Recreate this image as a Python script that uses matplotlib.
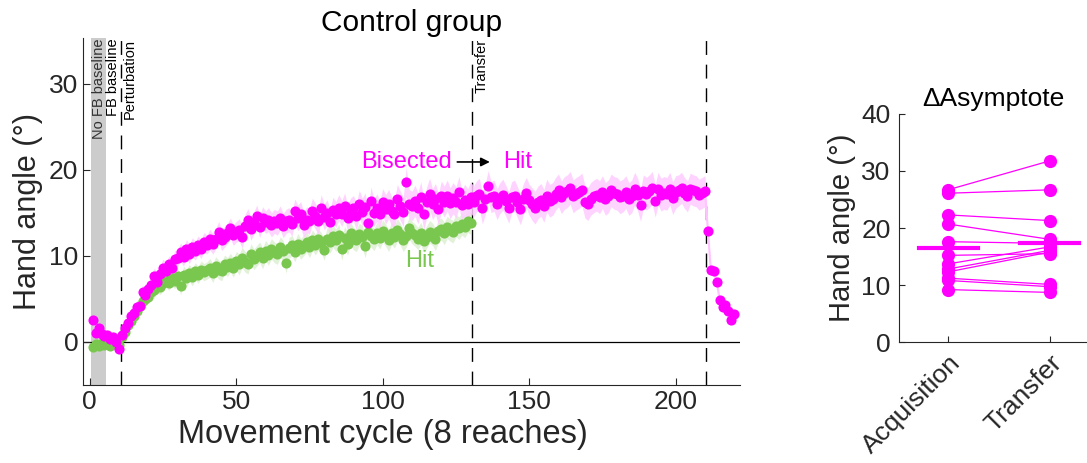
import numpy as np
import matplotlib.pyplot as plt

plt.rcParams['font.family'] = ['Liberation Sans', 'DejaVu Sans']

# Bisected group (magenta), mean hand angle per movement cycle 1..220
bisected = [
    2.6, 1.0, 1.6, 0.9, 0.7, 0.8, 0.3, 0.6, 0.0, -0.8,
    0.8, 1.6, 2.2, 3.0, 3.4, 4.0, 4.2, 5.8, 5.4, 6.2,
    6.6, 7.6, 7.0, 7.9, 8.6, 8.2, 9.0, 8.6, 9.6, 9.8,
    10.4, 9.9, 10.8, 10.2, 11.0, 10.6, 11.2, 10.8, 11.6, 11.3,
    11.9, 11.4, 12.0, 12.8, 11.8, 12.2, 12.6, 13.2, 12.4, 12.8,
    13.0, 12.2, 13.5, 14.2, 13.1, 13.8, 14.6, 13.4, 14.4, 13.9,
    14.2, 13.6, 14.0, 13.8, 14.4, 13.5, 14.0, 14.2, 13.7, 15.2,
    14.4, 14.8, 13.6, 14.2, 14.0, 15.2, 14.6, 14.0, 15.6, 14.5,
    15.0, 13.9, 15.3, 14.8, 15.6, 14.9, 15.8, 14.4, 15.2, 15.5,
    14.6, 16.0, 15.1, 15.7, 13.8, 16.4, 15.0, 15.6, 14.8, 16.2,
    15.4, 16.0, 15.2, 14.9, 16.6, 15.8, 15.1, 18.6, 16.0, 15.8,
    16.4, 15.5, 16.8, 14.8, 16.2, 17.2, 16.0, 16.6, 15.4, 16.9,
    16.3, 17.0, 16.1, 16.7, 16.2, 17.4, 15.9, 16.5, 16.0, 16.8,
    16.3, 16.9, 17.2, 15.5, 16.6, 18.1, 16.8, 17.0, 16.0, 16.7,
    17.1, 16.4, 15.6, 16.8, 17.0, 16.2, 15.4, 16.6, 17.3, 16.5,
    16.0, 15.6, 16.2, 16.5, 15.8, 17.0, 16.4, 16.6, 17.2, 17.6,
    16.8, 17.3, 17.5, 17.9, 16.9, 17.2, 17.4, 17.7, 16.3, 16.0,
    16.6, 16.9, 17.1, 16.8, 17.4, 16.6, 16.9, 17.6, 17.3, 17.2,
    16.8, 17.0, 17.4, 16.6, 16.9, 17.8, 17.1, 15.9, 17.5, 17.2,
    17.5, 17.9, 16.4, 17.8, 17.1, 17.3, 17.2, 17.8, 16.7, 17.4,
    17.6, 17.9, 17.3, 16.9, 17.8, 17.6, 17.5, 17.1, 17.3, 17.5,
    12.9, 8.3, 8.2, 7.0, 4.9, 4.1, 4.3, 3.6, 2.5, 3.2,
]
# SEM per block of 10 cycles
bisected_sem_blocks = [0.6, 0.8, 1.0, 1.1, 1.2, 1.3, 1.4, 1.5, 1.5, 1.6, 1.7,
                       1.8, 1.8, 1.8, 1.8, 1.9, 1.9, 1.9, 1.9, 1.9, 1.8, 0.5]

# Hit group (green), cycles 1..130
hit = [
    -0.6, -0.2, -0.5, -0.1, -0.4, 0.0, -0.5, -0.2, 0.2, -0.3,
    0.6, 1.2, 2.0, 2.4, 3.0, 3.6, 4.2, 4.8, 5.0, 5.2,
    5.8, 6.0, 6.6, 6.4, 6.8, 7.2, 6.9, 7.4, 7.1, 7.6,
    6.5, 7.8, 7.4, 8.0, 7.5, 8.2, 7.8, 8.4, 8.1, 8.3,
    8.6, 8.0, 8.8, 8.4, 8.2, 9.0, 8.7, 9.2, 8.6, 9.4,
    9.0, 9.8, 9.3, 9.1, 10.2, 9.6, 10.0, 10.4, 9.7, 10.6,
    10.1, 10.8, 10.4, 10.2, 11.0, 10.6, 9.2, 10.9, 11.2, 10.5,
    11.4, 10.8, 11.2, 11.6, 11.0, 11.8, 11.3, 11.9, 11.5, 10.7,
    12.0, 11.6, 12.3, 11.8, 12.4, 10.8, 12.1, 11.4, 12.6, 12.0,
    11.8, 12.5, 12.2, 11.1, 12.8, 12.3, 11.9, 12.6, 12.1, 12.9,
    12.4, 11.8, 12.6, 12.2, 13.0, 12.5, 11.8, 12.3, 13.2, 12.7,
    12.4, 12.0, 12.6, 11.7, 12.2, 12.8, 12.5, 11.9, 12.9, 13.1,
    12.6, 13.3, 13.0, 12.8, 13.5, 13.2, 13.7, 13.4, 14.0, 13.8,
]
hit_sem_blocks = [0.5, 0.7, 0.9, 1.0, 1.1, 1.2, 1.2, 1.2, 1.3, 1.3, 1.3, 1.3, 1.3]

# Asymptote per participant
acquisition = [26.7, 26.1, 22.3, 20.7, 17.6, 15.2, 13.7, 12.8, 12.3, 11.2, 10.8, 9.2]
transfer = [31.8, 26.7, 21.3, 18.0, 17.3, 15.5, 16.7, 16.1, 15.8, 10.1, 9.7, 8.7]
phase_labels = ['Acquisition', 'Transfer']

magenta = '#ff00ff'
green = '#7ac74f'
ink = '#262626'

bisected = np.array(bisected)
hit = np.array(hit)
cyc_b = np.arange(1, len(bisected) + 1)
cyc_h = np.arange(1, len(hit) + 1)
sem_b = np.repeat(bisected_sem_blocks, 10)[:len(bisected)]
sem_h = np.repeat(hit_sem_blocks, 10)[:len(hit)]

fig = plt.figure(figsize=(10.87, 4.63), dpi=100)
ax = fig.add_axes([0.0764, 0.1685, 0.6045, 0.7495])

ax.axvspan(0.5, 5.5, color='#cccccc', lw=0, zorder=0)
ax.axhline(0, color='black', lw=0.9, zorder=1)
for xv in [10.5, 130.5, 210.5]:
    ax.axvline(xv, color='black', lw=1, ls=(0, (10, 7)), zorder=1)

ax.fill_between(cyc_h, hit - sem_h, hit + sem_h, color='#e2f2d8', lw=0, zorder=2)
ax.fill_between(cyc_b, bisected - sem_b, bisected + sem_b, color='#ffccff', lw=0,
                alpha=0.85, zorder=2)
ax.plot(cyc_b[209:], bisected[209:], color='#ffc4ff', lw=1.5, zorder=2)
ax.plot(cyc_h, hit, 'o', color=green, ms=7.3, mec='none', zorder=3)
ax.plot(cyc_b, bisected, 'o', color=magenta, ms=7.3, mec='none', zorder=4)

ax.set_xlim(-2.3, 222)
ax.set_ylim(-5, 35.3)
ax.set_xticks([0, 50, 100, 150, 200])
ax.set_yticks([0, 10, 20, 30])
ax.tick_params(direction='in', length=5, labelsize=19, colors=ink)
for s in ['top', 'right']:
    ax.spines[s].set_visible(False)
for s in ['left', 'bottom']:
    ax.spines[s].set_color(ink)
ax.set_xlabel('Movement cycle (8 reaches)', fontsize=23.5, color=ink, labelpad=4, x=0.456)
ax.set_ylabel('Hand angle (°)', fontsize=22, color=ink)
ax.set_title('Control group', fontsize=21.5, color='black', pad=5)

vt = dict(rotation=90, va='top', ha='center', fontsize=10.5)
ax.text(3.0, 35.2, 'No FB baseline', color='#333333', **vt)
ax.text(8.0, 35.2, 'FB baseline', color='black', **vt)
ax.text(13.8, 35.2, 'Perturbation', color='black', **vt)
ax.text(133.8, 35.2, 'Transfer', color='black', **vt)

ax.text(123.5, 20.9, 'Bisected', color=magenta, fontsize=17, ha='right', va='center')
ax.annotate('', xy=(137.5, 20.9), xytext=(124.5, 20.9),
            arrowprops=dict(arrowstyle='-|>', color='black', lw=1.2, mutation_scale=13))
ax.text(141, 20.9, 'Hit', color=magenta, fontsize=17, ha='left', va='center')
ax.text(112.5, 9.4, 'Hit', color=green, fontsize=17, ha='center', va='center')

# right panel
ax2 = fig.add_axes([0.827, 0.2613, 0.173, 0.4925])
for a, t in zip(acquisition, transfer):
    ax2.plot([1, 2], [a, t], '-', color=magenta, lw=0.9, zorder=2)
ax2.plot(np.ones(len(acquisition)), acquisition, 'o', color=magenta, ms=9.5, mec='none', zorder=3)
ax2.plot(np.full(len(transfer), 2), transfer, 'o', color=magenta, ms=9.5, mec='none', zorder=3)
ax2.plot([0.72, 1.29], [np.mean(acquisition)] * 2, color=magenta, lw=3, zorder=4)
ax2.plot([1.7, 2.28], [np.mean(transfer)] * 2, color=magenta, lw=3, zorder=4)
ax2.set_xlim(0.52, 2.36)
ax2.set_ylim(0, 40)
ax2.set_yticks([0, 10, 20, 30, 40])
ax2.set_xticks([1, 2])
ax2.set_xticklabels(phase_labels, rotation=45, ha='right', rotation_mode='anchor')
ax2.tick_params(direction='in', length=4, labelsize=19, colors=ink, pad=6)
for s in ['top', 'right']:
    ax2.spines[s].set_visible(False)
for s in ['left', 'bottom']:
    ax2.spines[s].set_color(ink)
ax2.set_ylabel('Hand angle (°)', fontsize=21, color=ink)
ax2.set_title('ΔAsymptote', fontsize=19, color='black', pad=6)

fig.savefig('out.png', dpi=100)
